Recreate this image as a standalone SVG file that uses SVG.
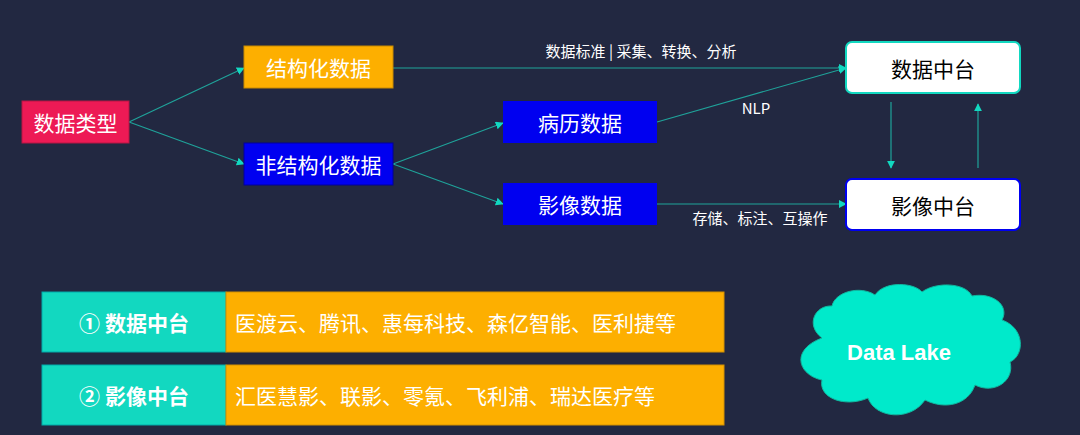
<svg xmlns="http://www.w3.org/2000/svg" width="1080" height="435" viewBox="0 0 1080 435">
<style>
text{font-family:"Noto Sans CJK SC","Liberation Sans",sans-serif;}
.w{fill:#fff;font-size:21px;text-anchor:middle;dominant-baseline:central}
.b{fill:#000;font-size:21px;text-anchor:middle;dominant-baseline:central}
.l{fill:#fff;font-size:15px;text-anchor:middle}
.c{stroke:#1fa39a;stroke-width:1.2;fill:none;marker-end:url(#a)}
.lg{fill:#fff;font-size:21px;dominant-baseline:central}
</style>
<defs><marker id="a" viewBox="0 0 10 10" refX="9" refY="5" markerWidth="8" markerHeight="8" orient="auto" markerUnits="userSpaceOnUse"><path d="M0,0L10,5L0,10z" fill="#12d8c0"/></marker></defs>
<rect width="1080" height="435" fill="#222841"/>
<g id="connectors">
<path class="c" d="M129,122L244,68"/>
<path class="c" d="M129,122L244,164"/>
<path class="c" d="M393,68L846,68"/>
<path class="c" d="M393,164L503,123"/>
<path class="c" d="M393,164L503,204"/>
<path class="c" d="M657,122L846,68"/>
<path class="c" d="M657,204L846,204"/>
<path class="c" d="M891,102L891,168"/>
<path class="c" d="M978,168L978,104"/>
<text class="l" x="641" y="57">数据标准 | 采集、转换、分析</text>
<text class="l" x="756" y="114" font-family="Liberation Sans">NLP</text>
<text class="l" x="760" y="224">存储、标注、互操作</text>
</g>
<g id="n1"><rect x="22" y="101" width="107" height="42" fill="#ED1A55" stroke="#b81545"/><text class="w" x="75.5" y="122">数据类型</text></g>
<g id="n2"><rect x="244" y="46" width="149" height="42" fill="#FDAF00" stroke="#c88a00"/><text class="w" x="318.5" y="67">结构化数据</text></g>
<g id="n3"><rect x="244" y="143" width="149" height="42" fill="#0000F0" stroke="#00009a"/><text class="w" x="318.5" y="164">非结构化数据</text></g>
<g id="n4"><rect x="503" y="101" width="154" height="42" fill="#0000F0"/><text class="w" x="580" y="122">病历数据</text></g>
<g id="n5"><rect x="503" y="183" width="154" height="42" fill="#0000F0"/><text class="w" x="580" y="204">影像数据</text></g>
<g id="n6"><rect x="846" y="42" width="174" height="51" rx="6" fill="#fff" stroke="#12d8c0" stroke-width="2"/><text class="b" x="933" y="68">数据中台</text></g>
<g id="n7"><rect x="846" y="179" width="174" height="51" rx="6" fill="#fff" stroke="#0000F0" stroke-width="2"/><text class="b" x="933" y="205">影像中台</text></g>
<g id="legend1"><rect x="42" y="292" width="184" height="60" fill="#12d8c0" stroke="#0aa"/><rect x="226" y="292" width="498" height="60" fill="#FDAF00" stroke="#d49000"/>
<text class="lg" x="134" y="322" text-anchor="middle" font-weight="bold">① 数据中台</text><text class="lg" x="235" y="322">医渡云、腾讯、惠每科技、森亿智能、医利捷等</text></g>
<g id="legend2"><rect x="42" y="365" width="184" height="60" fill="#12d8c0" stroke="#0aa"/><rect x="226" y="365" width="498" height="60" fill="#FDAF00" stroke="#d49000"/>
<text class="lg" x="134" y="395" text-anchor="middle" font-weight="bold">② 影像中台</text><text class="lg" x="235" y="395">汇医慧影、联影、零氪、飞利浦、瑞达医疗等</text></g>
<g id="cloud"><path d="M822,338C805,325 815,305 832,306C835,292 860,285 875,295C885,280 915,283 922,292C935,282 965,282 972,296C992,292 1010,305 1002,320C1025,328 1025,355 1010,362C1015,380 995,395 975,385C968,405 945,410 925,400C910,422 875,418 868,398C845,408 818,398 822,380C798,375 790,350 822,338Z" fill="#00EACB" stroke="#10b8a0" stroke-width="1"/>
<text x="899" y="352" fill="#fff" font-size="22" font-weight="bold" text-anchor="middle" dominant-baseline="central" style="font-family:'Liberation Sans',sans-serif">Data Lake</text></g>
</svg>
